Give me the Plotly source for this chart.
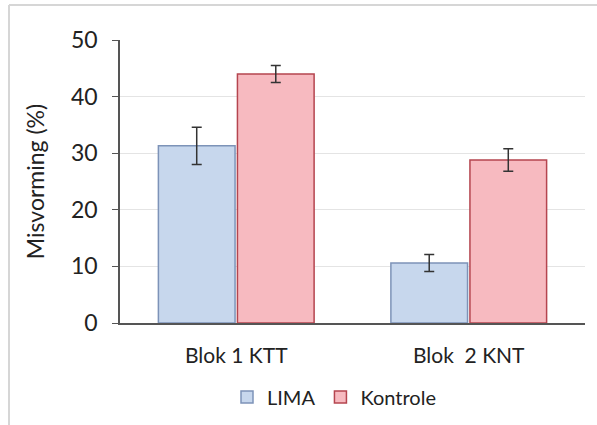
import plotly.graph_objects as go

categories = ["Blok 1 KTT", "Blok\u00a0\u00a02 KNT"]
lima = [31.3, 10.6]
lima_err = [3.3, 1.5]
kontrole = [44.0, 28.8]
kontrole_err = [1.5, 2.0]
y_ticks = [0, 10, 20, 30, 40, 50]

W, H = 597, 425
L, R, T, B = 120, 12, 40, 102
pw, ph = W - L - R, H - T - B


def px_x(x):
    return (x - L) / pw


def px_y(y):
    return (H - B - y) / ph


fig = go.Figure()
fig.add_trace(go.Bar(
    x=categories, y=lima, name="LIMA",
    marker=dict(color="#c7d7ed", line=dict(color="#7d93b8", width=1.5)),
    error_y=dict(type="data", array=lima_err, color="#333333", thickness=1.5, width=5),
))
fig.add_trace(go.Bar(
    x=categories, y=kontrole, name="Kontrole",
    marker=dict(color="#f7bac0", line=dict(color="#b5454f", width=1.5)),
    error_y=dict(type="data", array=kontrole_err, color="#333333", thickness=1.5, width=5),
))

font = "Lato, 'Noto Sans', sans-serif"

# light frame like the source image (top and left edges)
frame = dict(type="line", xref="paper", yref="paper", line=dict(color="#d6d6d6", width=2))
fig.add_shape(**frame, x0=px_x(9), x1=px_x(W), y0=px_y(5), y1=px_y(5))
fig.add_shape(**frame, x0=px_x(9), x1=px_x(9), y0=px_y(5), y1=px_y(H))

fig.update_layout(
    width=W, height=H,
    margin=dict(l=L, r=R, t=T, b=B, autoexpand=False),
    paper_bgcolor="white", plot_bgcolor="white",
    barmode="group", bargap=0.32, bargroupgap=0.03,
    font=dict(family=font, color="#222222"),
    showlegend=True,
    legend=dict(
        orientation="h", xref="container", yref="container",
        x=334 / W, xanchor="center",
        y=1 - 397 / H, yanchor="middle",
        font=dict(size=20), itemwidth=30, traceorder="normal",
    ),
    xaxis=dict(
        showline=True, linecolor="#555555", linewidth=1.5,
        ticks="", tickfont=dict(size=21), showgrid=False, automargin=False,
        ticklabelstandoff=13,
    ),
    yaxis=dict(
        range=[0, 50], tickvals=y_ticks,
        showline=True, linecolor="#555555", linewidth=1.5,
        ticks="outside", ticklen=6, tickcolor="#555555",
        tickfont=dict(size=23), automargin=False, ticklabelstandoff=10,
        gridcolor="#e4e4e4", gridwidth=1,
        zeroline=False,
        title=dict(text="Misvorming (%)", font=dict(size=23), standoff=20),
    ),
)

# drop the browser's default 8px body margin so the figure sits at the page corner
fig.write_html("out.html", config={"displayModeBar": False},
               post_script="document.body.style.margin='0';")
